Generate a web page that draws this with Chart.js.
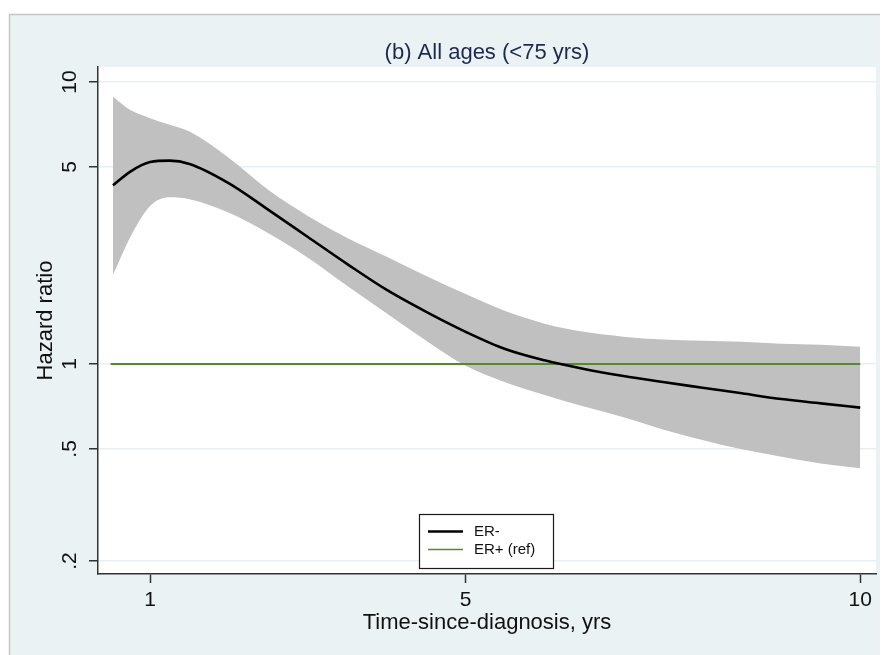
<!DOCTYPE html>
<html>
<head>
<meta charset="utf-8">
<script src="https://cdn.jsdelivr.net/npm/chart.js@4.4.1/dist/chart.umd.min.js"></script>
<style>
  html, body { margin: 0; padding: 0; background: #fff; }
  canvas { display: block; }
</style>
</head>
<body>
<canvas id="out" width="885" height="655"></canvas>
<script>
// years since diagnosis
const years = [0.53, 0.75, 1.0, 1.25, 1.5, 2.0, 2.5, 3.0, 3.5, 4.0, 4.5, 5.0, 5.5, 6.0, 6.5, 7.0, 7.5, 8.0, 8.5, 9.0, 9.5, 10.0];
const hrERneg = [4.3, 4.81, 5.2, 5.26, 5.12, 4.37, 3.52, 2.82, 2.26, 1.83, 1.53, 1.3, 1.13, 1.03, 0.96, 0.906, 0.863, 0.824, 0.787, 0.751, 0.725, 0.70];
const ciUpper = [8.86, 7.95, 7.44, 7.05, 6.67, 5.38, 4.14, 3.35, 2.8, 2.4, 2.05, 1.77, 1.54, 1.39, 1.30, 1.25, 1.22, 1.21, 1.2, 1.18, 1.17, 1.15];
const ciLower = [2.07, 2.82, 3.63, 3.9, 3.84, 3.44, 2.91, 2.38, 1.89, 1.51, 1.21, 0.985, 0.862, 0.776, 0.706, 0.647, 0.586, 0.538, 0.498, 0.469, 0.444, 0.427];
const refYears = [0.5, 10.0];
const refHR = [1, 1];

const xTickValues = [1, 5, 10];
const yTickValues = [0.2, 0.5, 1, 5, 10];
const yTickLabels = [".2", ".5", "1", "5", "10"];
const seriesNames = ["ER-", "ER+ (ref)"];

const FONT = "'Liberation Sans', Arial, sans-serif";
const BLACK = "#000000";
const GREEN = "#558a2c";
const BAND = "#c0c0c0";

function pts(xs, ys) {
  return xs.map((x, i) => ({ x: x, y: ys[i] }));
}

// Stata-like background: light outer region, white plot region
const backdrop = {
  id: "backdrop",
  beforeDraw(chart) {
    const ctx = chart.ctx;
    const a = chart.chartArea;
    ctx.save();
    ctx.fillStyle = "#ffffff";
    ctx.fillRect(0, 0, chart.width, chart.height);
    ctx.fillStyle = "#eaf2f3";
    ctx.fillRect(9, 14, 871, chart.height - 14);
    ctx.strokeStyle = "#c6c6c6";
    ctx.lineWidth = 1.5;
    ctx.beginPath();
    ctx.moveTo(9.5, chart.height);
    ctx.lineTo(9.5, 14.5);
    ctx.lineTo(880, 14.5);
    ctx.stroke();
    ctx.fillStyle = "#ffffff";
    ctx.fillRect(a.left, a.top, a.right - a.left, a.bottom - a.top);
    ctx.restore();
  }
};

// legend box inside the plot
const boxLegend = {
  id: "boxLegend",
  afterDraw(chart) {
    const ctx = chart.ctx;
    const bx = 419, by = 514, bw = 134, bh = 54;
    ctx.save();
    ctx.fillStyle = "#ffffff";
    ctx.fillRect(bx, by, bw, bh);
    ctx.strokeStyle = "#1a1a1a";
    ctx.lineWidth = 1.2;
    ctx.strokeRect(bx + 0.5, by + 0.5, bw, bh);
    const rows = [
      { name: seriesNames[0], color: BLACK, width: 2.6, y: 531.5 },
      { name: seriesNames[1], color: GREEN, width: 1.4, y: 549.5 }
    ];
    ctx.font = "15px " + FONT;
    ctx.textBaseline = "middle";
    ctx.textAlign = "left";
    rows.forEach(r => {
      ctx.strokeStyle = r.color;
      ctx.lineWidth = r.width;
      ctx.beginPath();
      ctx.moveTo(428, r.y);
      ctx.lineTo(463, r.y);
      ctx.stroke();
      ctx.fillStyle = "#111111";
      ctx.fillText(r.name, 474, r.y);
    });
    ctx.restore();
  }
};

const chartConfig = {
  type: "line",
  data: {
    datasets: [
      {
        label: seriesNames[0],
        data: pts(years, hrERneg),
        borderColor: BLACK,
        borderWidth: 2.6,
        pointRadius: 0,
        cubicInterpolationMode: "monotone",
        fill: false
      },
      {
        label: seriesNames[1],
        data: pts(refYears, refHR),
        borderColor: GREEN,
        borderWidth: 2,
        pointRadius: 0,
        fill: false
      },
      {
        label: "upper",
        data: pts(years, ciUpper),
        borderWidth: 0,
        borderColor: "rgba(0,0,0,0)",
        backgroundColor: BAND,
        pointRadius: 0,
        cubicInterpolationMode: "monotone",
        fill: "+1"
      },
      {
        label: "lower",
        data: pts(years, ciLower),
        borderWidth: 0,
        borderColor: "rgba(0,0,0,0)",
        pointRadius: 0,
        cubicInterpolationMode: "monotone",
        fill: false
      }
    ]
  },
  options: {
    responsive: false,
    animation: false,
    devicePixelRatio: 1,
    layout: { padding: { left: 0, right: 9, top: 0, bottom: 0 } },
    plugins: {
      legend: { display: false },
      tooltip: { enabled: false },
      title: {
        display: true,
        text: "(b) All ages (<75 yrs)",
        fullSize: false,
        color: "#1e2850",
        font: { family: FONT, size: 22, weight: "normal", lineHeight: 1.2 },
        padding: { top: 40, bottom: 0.6 }
      }
    },
    scales: {
      x: {
        type: "linear",
        min: 0.34,
        max: 10.2,
        afterBuildTicks: scale => { scale.ticks = xTickValues.map(v => ({ value: v })); },
        afterFit: scale => { scale.height = 81; },
        grid: { drawOnChartArea: false, drawTicks: true, tickLength: 9, tickColor: "#333333", tickWidth: 1.5 },
        border: { display: true, color: "#333333", width: 1.5 },
        ticks: {
          color: "#111111",
          font: { family: FONT, size: 21, lineHeight: 1.2 },
          padding: 5,
          maxRotation: 0,
          autoSkip: false,
          callback: v => String(v)
        },
        title: {
          display: true,
          text: "Time-since-diagnosis, yrs",
          color: "#111111",
          font: { family: FONT, size: 22, lineHeight: 1.2 },
          padding: { top: 0, bottom: 18.8 }
        }
      },
      y: {
        type: "logarithmic",
        min: 0.18,
        max: 11.3,
        afterBuildTicks: scale => { scale.ticks = yTickValues.map(v => ({ value: v })); },
        afterFit: scale => { scale.width = 98; },
        grid: { color: "#e6eff1", lineWidth: 1.5, drawTicks: true, tickLength: 9, tickColor: "#333333", tickWidth: 1.5 },
        border: { display: true, color: "#333333", width: 1.5 },
        ticks: {
          color: "#111111",
          font: { family: FONT, size: 21, lineHeight: 1.2 },
          padding: 7,
          minRotation: 90,
          maxRotation: 90,
          crossAlign: "center",
          autoSkip: false,
          callback: v => {
            const i = yTickValues.indexOf(v);
            return i >= 0 ? yTickLabels[i] : "";
          }
        },
        title: {
          display: true,
          text: "Hazard ratio",
          color: "#111111",
          font: { family: FONT, size: 22, lineHeight: 1.2 },
          padding: { top: 32.8, bottom: 0 }
        }
      }
    }
  },
  plugins: [backdrop, boxLegend]
};

const canvasCtx = document.getElementById("out").getContext("2d");
window.chart = new Chart(canvasCtx, chartConfig);
</script>
</body>
</html>
